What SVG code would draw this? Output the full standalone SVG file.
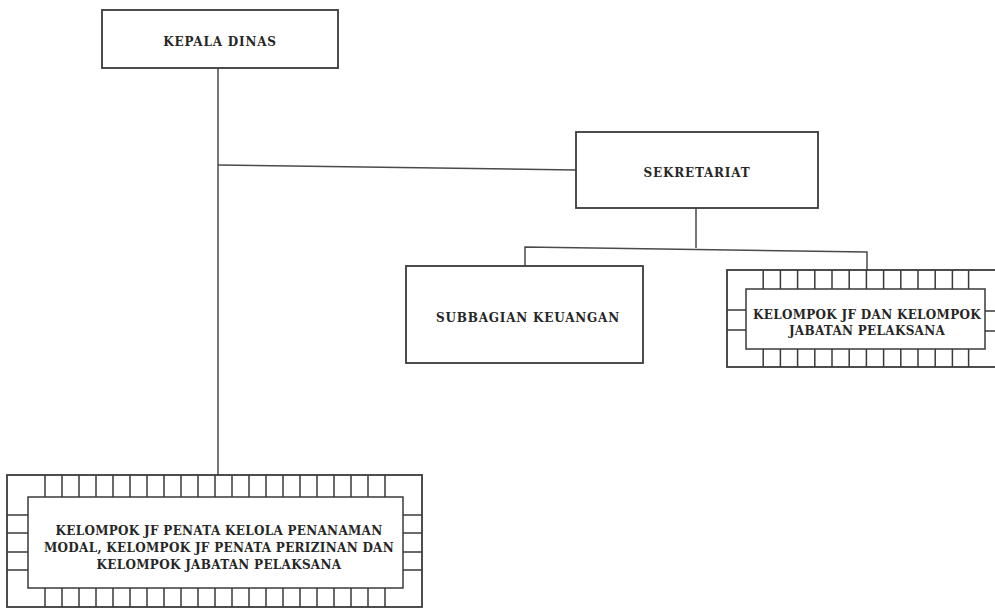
<svg xmlns="http://www.w3.org/2000/svg" width="995" height="615" viewBox="0 0 995 615">
<style>
.box{fill:#fff;stroke:#3a3a3a;stroke-width:1.8}
.grid{fill:none;stroke:#3a3a3a;stroke-width:1.5}
.conn{fill:none;stroke:#4a4a4a;stroke-width:1.5}
.t{font-family:"DejaVu Serif","Liberation Serif",serif;font-weight:bold;font-size:12px;fill:#262626;text-anchor:middle;letter-spacing:0.3px}
.w{letter-spacing:0.8px}
</style>
<rect width="995" height="615" fill="#fff"/>
<g id="connectors">
<path class="conn" d="M218,68 V475"/>
<path class="conn" d="M218,165 L576,170"/>
<path class="conn" d="M696,208 V248"/>
<path class="conn" d="M525,266 V247 L867,252 V270"/>
</g>
<g id="kepala-dinas">
<rect class="box" x="102" y="10" width="236" height="58"/>
<text class="t w" x="220" y="46">KEPALA DINAS</text>
</g>
<g id="sekretariat">
<rect class="box" x="576" y="132" width="242" height="76"/>
<text class="t w" x="697" y="177">SEKRETARIAT</text>
</g>
<g id="subbagian-keuangan">
<rect class="box" x="406" y="266" width="237" height="97"/>
<text class="t w" x="528" y="322">SUBBAGIAN KEUANGAN</text>
</g>
<g id="kelompok-jf-sekretariat">
<rect class="box" x="727" y="270" width="280" height="97"/>
<rect class="grid" x="746" y="289" width="239" height="60"/>
<path class="grid" d="M763.2,270V289M780.4,270V289M797.6,270V289M814.8,270V289M832,270V289M849.2,270V289M866.4,270V289M883.6,270V289M900.8,270V289M918,270V289M935.2,270V289M952.4,270V289M968.6,270V289
M763.2,349V367M780.4,349V367M797.6,349V367M814.8,349V367M832,349V367M849.2,349V367M866.4,349V367M883.6,349V367M900.8,349V367M918,349V367M935.2,349V367M952.4,349V367M968.6,349V367
M727,310H746M727,330H746M985,311H1007M985,331H1007"/>
<text class="t" x="867" y="319">KELOMPOK JF DAN KELOMPOK</text>
<text class="t" x="867" y="335">JABATAN PELAKSANA</text>
</g>
<g id="kelompok-jf-penata">
<rect class="box" x="7" y="475" width="415" height="132"/>
<rect class="grid" x="28" y="497" width="375" height="91"/>
<path class="grid" d="M45,475V497M62,475V497M79,475V497M96,475V497M113,475V497M130,475V497M147,475V497M164,475V497M181,475V497M198,475V497M215,475V497M232,475V497M249,475V497M266,475V497M283,475V497M300,475V497M317,475V497M334,475V497M351,475V497M368,475V497M385,475V497
M45,588V607M62,588V607M79,588V607M96,588V607M113,588V607M130,588V607M147,588V607M164,588V607M181,588V607M198,588V607M215,588V607M232,588V607M249,588V607M266,588V607M283,588V607M300,588V607M317,588V607M334,588V607M351,588V607M368,588V607M385,588V607
M7,515H28M7,533H28M7,552H28M7,570H28M403,515H422M403,533H422M403,552H422M403,570H422"/>
<text class="t" x="219" y="535">KELOMPOK JF PENATA KELOLA PENANAMAN</text>
<text class="t" x="219" y="552">MODAL, KELOMPOK JF PENATA PERIZINAN DAN</text>
<text class="t" x="219" y="569">KELOMPOK JABATAN PELAKSANA</text>
</g>
</svg>
